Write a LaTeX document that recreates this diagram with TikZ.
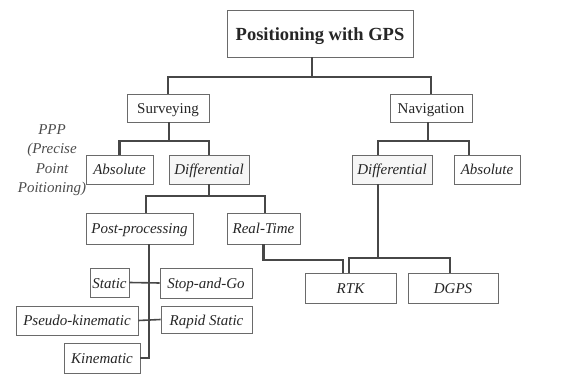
\documentclass[tikz,border=0pt]{standalone}
\usepackage{fontspec}
\setmainfont{Liberation Serif}
\usetikzlibrary{positioning}
\definecolor{boxgray}{HTML}{6A6A6A}
\definecolor{linegray}{HTML}{474747}
\definecolor{difffill}{HTML}{F6F6F6}

\begin{document}
\begin{tikzpicture}[x=1pt,y=-1pt,
      box/.style={draw=boxgray, line width=0.9pt, inner sep=2pt,
        text height=11pt, text depth=0pt, text=black!85,
        font=\fontsize{15}{17}\selectfont},
      ibox/.style={box, font=\fontsize{15}{17}\selectfont\itshape},
      conn/.style={draw=linegray, line width=2.4pt},
      tconn/.style={draw=linegray, line width=1.6pt}]
      \useasboundingbox (0,0) rectangle (584,374);

      % top levels
      \node[box, minimum width=186pt, minimum height=47pt, text height=15pt, text depth=0pt,
        font=\fontsize{18.5}{20}\selectfont\bfseries] (title) at (320,33.5) {Positioning with GPS};
      \node[box, minimum width=82pt, minimum height=28pt] (surv) at (168,108) {Surveying};
      \node[box, minimum width=82pt, minimum height=28pt] (nav) at (431,108) {Navigation};

      \node[ibox, minimum width=67pt, minimum height=29pt] (absL) at (119.5,169.5) {Absolute};
      \node[ibox, fill=difffill, minimum width=80pt, minimum height=29pt] (difL) at (209,169.5) {Differential};
      \node[ibox, fill=difffill, minimum width=80pt, minimum height=29pt] (difR) at (392,169.5) {Differential};
      \node[ibox, minimum width=66pt, minimum height=29pt] (absR) at (487,169.5) {Absolute};

      \node[align=center, font=\fontsize{15}{19.5}\selectfont\itshape, text=black!70] (ppp) at (52,160)
        {PPP\\(Precise\\Point\\Poitioning)};

      \node[ibox, minimum width=107pt, minimum height=31pt] (post) at (139.5,228.5) {Post-processing};
      \node[ibox, minimum width=73pt, minimum height=31pt] (real) at (263.5,228.5) {Real-Time};

      \node[ibox, minimum width=91pt, minimum height=30pt] (rtk) at (350.5,288) {RTK};
      \node[ibox, minimum width=90pt, minimum height=30pt] (dgps) at (453,288) {DGPS};

      % post-processing modes
      \node[ibox, minimum width=39pt, minimum height=29pt] (static) at (109.5,282.5) {Static};
      \node[ibox, minimum width=92pt, minimum height=30pt] (stop) at (206,283) {Stop-and-Go};
      \node[ibox, minimum width=122pt, minimum height=29pt] (pseudo) at (77,320.5) {Pseudo-kinematic};
      \node[ibox, minimum width=91pt, minimum height=27pt] (rapid) at (206.5,319.5) {Rapid Static};
      \node[ibox, minimum width=76pt, minimum height=30pt] (kin) at (102,358) {Kinematic};

      % junctions
      \coordinate (top-m) at (312,77);
      \coordinate (sv-m) at (169,141);
      \coordinate (nv-m) at (428,141);
      \coordinate (nv-l) at (378,141);
      \coordinate (nv-r) at (469,141);
      \coordinate (df-m) at (209,196);
      \coordinate (df-l) at (146,196);
      \coordinate (df-r) at (265,196);
      \coordinate (rt-j) at (343,260);
      \coordinate (dr-m) at (378,258);
      \coordinate (dr-l) at (349,258);
      \coordinate (dr-r) at (450,258);
      \coordinate (pp-j) at (149,358);

      % connectors
      \draw[tconn] (title.south -| top-m) -- (top-m);
      \draw[conn] (surv.north) |- (top-m) -| (nav.north);
      \draw[conn] (surv.south -| sv-m) -- (sv-m);
      \draw[conn] (absL.north) |- (sv-m) -| (difL.north);
      \draw[conn] (nav.south -| nv-m) -- (nv-m);
      \draw[conn] (nv-l |- difR.north) -- (nv-l) -- (nv-r) -- (nv-r |- absR.north);
      \draw[conn] (difL.south -| df-m) -- (df-m);
      \draw[conn] (df-l |- post.north) -- (df-l) -- (df-r) -- (df-r |- real.north);
      \draw[conn] (real.south) |- (rt-j) -- (rt-j |- rtk.north);
      \draw[conn] (dr-m |- difR.south) -- (dr-m);
      \draw[conn] (dr-l |- rtk.north) -- (dr-l) -- (dr-r) -- (dr-r |- dgps.north);
      \draw[tconn] (post.south -| pp-j) -- (pp-j) -- (kin.east);
      \draw[tconn] (static.east) -- (stop.west);
      \draw[tconn] (pseudo.east) -- (rapid.west);
    \end{tikzpicture}
\end{document}
